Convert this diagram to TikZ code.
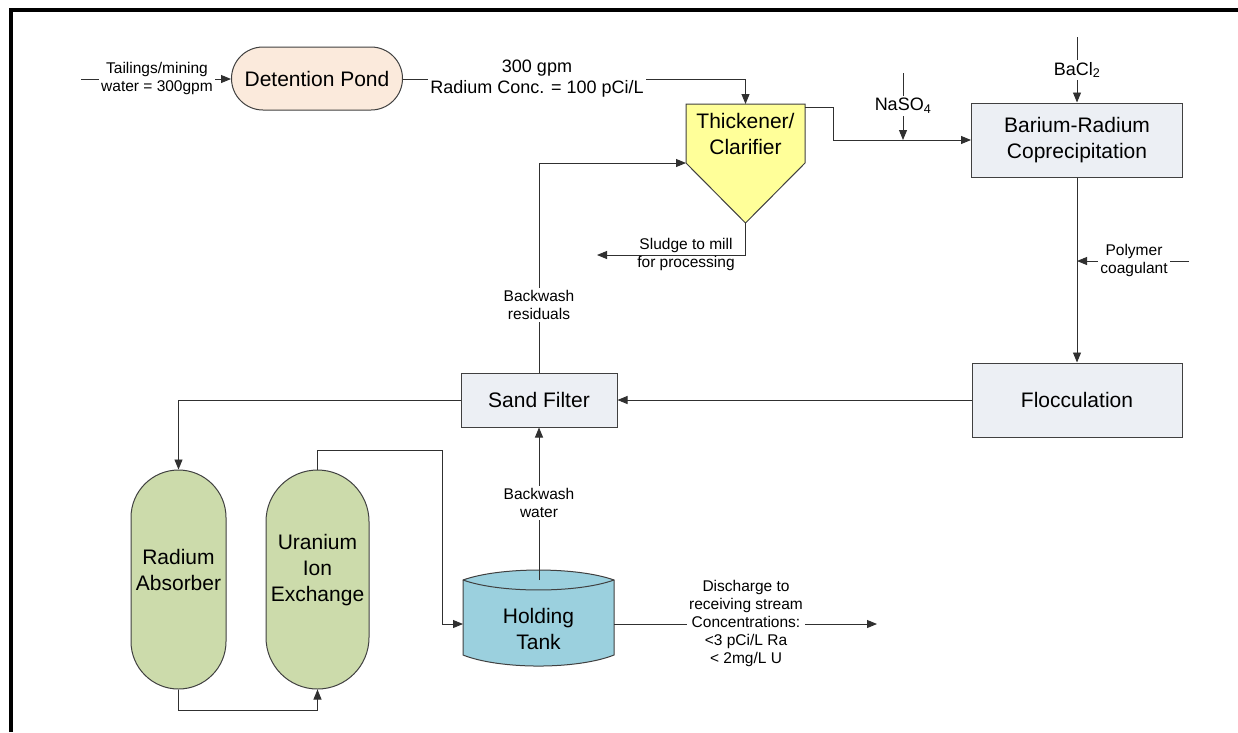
\documentclass[tikz,border=0pt]{standalone}
\usepackage{fontspec}
\setmainfont{Liberation Sans}
\usetikzlibrary{arrows.meta,shapes.misc}
\definecolor{pondfill}{HTML}{FBEADC}
\definecolor{boxfill}{HTML}{ECEFF4}
\definecolor{clarfill}{HTML}{FFFF99}
\definecolor{colfill}{HTML}{CCDBAB}
\definecolor{tankfill}{HTML}{9BD0DE}
\definecolor{linec}{HTML}{303030}
\begin{document}
\begin{tikzpicture}[x=1pt,y=-1pt,
  flow/.style={draw=linec, line width=0.9pt},
  arr/.style={flow,-{Triangle[length=10pt,width=8pt]}},
  big/.style={font=\fontsize{21}{26}\selectfont, align=center},
  mid/.style={font=\fontsize{18}{21}\selectfont, align=center},
  small/.style={font=\fontsize{15.5}{18}\selectfont, align=center, fill=white, inner sep=2pt},
  chem/.style={mid, fill=white, inner sep=2pt},
  outline/.style={draw=black!75, line width=1pt},
  unit/.style={outline, fill=boxfill, big, inner sep=0pt},
  column/.style={outline, fill=colfill, rectangle, rounded corners=47.5pt,
    minimum width=95pt, minimum height=219pt, inner sep=0pt}
]
\useasboundingbox (0,0) rectangle (1238,732);
\fill[white] (0,0) rectangle (1238,732);

% page frame
\draw[line width=4pt] (11,732) -- (11,10) -- (1238,10);

% ---- units ----
\node[outline, fill=pondfill, big, rounded rectangle, minimum width=171pt,
  minimum height=63pt, inner sep=0pt] (pond) at (317,78.5) {Detention Pond};

% thickener / clarifier body
\path[outline, fill=clarfill] (686,104) -- (805,104) -- (805,163) -- (745.5,223)
  -- (686,163) -- cycle;
\node[big, minimum width=119pt, minimum height=59pt, inner sep=0pt]
  (thick) at (745.5,133.5) {Thickener/\\Clarifier};
\coordinate (thickbot) at (745.5,223);

\node[unit, minimum width=211pt, minimum height=74pt] (bar) at (1077,140)
  {Barium-Radium\\Coprecipitation};
\node[unit, minimum width=210pt, minimum height=74pt] (floc) at (1077,400)
  {Flocculation};
\node[unit, minimum width=156pt, minimum height=54pt] (sand) at (539,400)
  {Sand Filter};

\node[column] (rad) at (178.5,579.5) {};
\node[big] at (178.5,570) {Radium\\Absorber};
\node[column, minimum width=103pt, rounded corners=51.5pt] (ura) at (317.5,579.5) {};
\node[big] at (317.5,570) {Uranium\\Ion\\Exchange};

% holding tank
\path[outline, fill=tankfill] (463,580) .. controls (500,566.7) and (577,566.7) .. (614,580)
  -- (614,655) .. controls (577,669.7) and (500,669.7) .. (463,655) -- cycle;
\draw[outline] (463,580) .. controls (500,593.3) and (577,593.3) .. (614,580);
\node[big, minimum width=151pt, minimum height=60pt, inner sep=0pt]
  (tank) at (538.5,629) {Holding\\Tank};
\coordinate (tanktop) at (539,580);
\coordinate (tankin) at (463,624);
\coordinate (tankout) at (614,624);

% ---- connectors ----
\coordinate (feed) at (81,79);
\draw[arr] (feed) -- (pond.west |- feed);
\node[small] at (157,78) {Tailings/mining\\water = 300gpm};

\coordinate (thin) at (745.5,104);
\draw[arr] (pond.east |- feed) -- (745.5,79) -- (thin);
\node[mid, fill=white, inner sep=2pt] at (537,78.5) {300 gpm\\Radium Conc. = 100 pCi/L};

\coordinate (thout) at (805,107);
\coordinate (naj) at (903,140);
\draw[arr] (thout) -- (833,107) -- (833,140) -- (bar.west |- naj);

\coordinate (na) at (903,73);
\draw[arr] (na) -- (naj);
\node[chem] at (903,106) {NaSO\textsubscript{4}};

\coordinate (ba) at (1077,37);
\draw[arr] (ba) -- (bar.north);
\node[chem] at (1077,70) {BaCl\textsubscript{2}};

\draw[arr] (bar.south) -- (floc.north);
\coordinate (poly) at (1189,261);
\draw[arr] (poly) -- (1077,261);
\node[small] at (1134,260) {Polymer\\coagulant};

\draw[arr] (floc.west) -- (sand.east);

\coordinate (thleft) at (686,163);
\draw[arr] (sand.north) -- (539,163) -- (thleft);
\node[small] at (539,305) {Backwash\\residuals};

\coordinate (sludge) at (597,255);
\draw[arr] (thickbot) -- (745.5,255) -- (sludge);
\node[small, fill=none] at (686,254) {Sludge to mill\\for processing};

\draw[arr] (sand.west) -- (178.5,400) -- (rad.north);
\draw[arr] (rad.south) -- (178.5,710) -- (317.5,710) -- (ura.south);
\draw[arr] (ura.north) -- (317.5,450) -- (442,450) -- (442,624) -- (tankin);

\draw[arr] (tanktop) -- (sand.south);
\node[small] at (539,503) {Backwash\\water};

\coordinate (dis) at (877,624);
\draw[arr] (tankout) -- (dis);
\node[small] at (746,623.5) {Discharge to\\receiving stream\\Concentrations:\\<3 pCi/L Ra\\< 2mg/L U};
\end{tikzpicture}
\end{document}
